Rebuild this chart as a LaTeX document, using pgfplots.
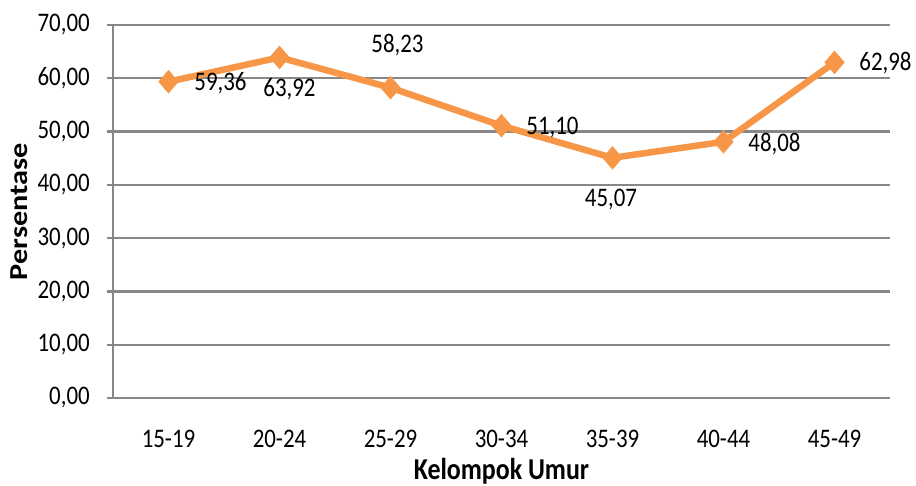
\documentclass[border=0pt]{standalone}
\usepackage{pgfplots}
\pgfplotsset{compat=1.18}
\usepackage{fontspec}
\setmainfont{Carlito}
\definecolor{lineorange}{HTML}{F79646}
\definecolor{gridgray}{HTML}{878787}

\begin{document}
\begin{tikzpicture}
\begin{axis}[
  at={(0,0)}, anchor=south west,
  scale only axis, width=777bp, height=373bp,
  xmin=-0.5, xmax=6.5, ymin=0, ymax=70,
  xtick={0,...,6},
  xticklabels={15-19,20-24,25-29,30-34,35-39,40-44,45-49},
  ytick={0,10,...,70},
  /pgf/number format/assume math mode=true,
  yticklabel={\pgfmathprintnumber[fixed,fixed zerofill,precision=2,use comma]{\tick}},
  axis lines*=left,
  axis line style={gridgray, line width=2.4bp},
  ymajorgrids,
  major grid style={gridgray, line width=2.4bp},
  xtick style={draw=none},
  ytick style={gridgray, line width=2.4bp},
  tick align=outside, major tick length=6bp,
  tick label style={font=\fontsize{23}{26}\selectfont, text=black},
  xticklabel style={anchor=center, inner sep=0pt, yshift=-35bp, yscale=1.17},
  yticklabel style={anchor=east, inner sep=0pt, xshift=-17bp, yscale=1.17},
  xlabel={\textbf{Kelompok Umur}},
  ylabel={\textbf{Persentase}},
  label style={font=\fontsize{26}{30}\selectfont, inner sep=0pt},
  xlabel style={at={(axis description cs:0.5,-0.2198)}, anchor=base, yscale=1.17},
  ylabel style={at={(axis description cs:-0.1094,0.5)}, anchor=base, xscale=1.17},
  clip=false,
]
\addplot[
  lineorange, line width=6.5bp,
  mark=diamond*, mark size=11bp,
  mark options={xscale=1.15, line width=1bp, fill=lineorange, draw=lineorange},
  visualization depends on={\thisrow{dx}\as\dx},
  visualization depends on={\thisrow{dy}\as\dy},
  nodes near coords={\pgfmathprintnumber[fixed,fixed zerofill,precision=2,use comma]{\pgfplotspointmeta}},
  nodes near coords style={anchor=center, inner sep=0pt, text=black,
    font=\fontsize{23}{26}\selectfont, xshift=\dx bp, yshift=\dy bp, yscale=1.17},
] table[x=x, y=y, meta=y] {
x y dx dy
0 59.36 52 -1
1 63.92 10 -32
2 58.23 7 43
3 51.10 51 -2
4 45.07 -1.5 -42
5 48.08 51 -2
6 62.98 51 -1
};
\end{axis}
\pgfresetboundingbox
\path[use as bounding box] (-113bp,-88bp) rectangle (803bp,398bp);
\end{tikzpicture}
\end{document}
